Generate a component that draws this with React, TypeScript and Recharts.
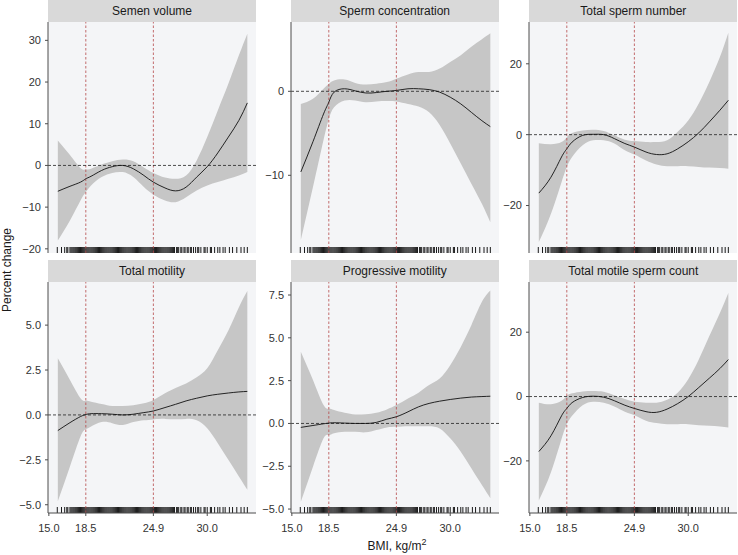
import React from 'react';
import { ComposedChart, Area, Line, XAxis, YAxis, ReferenceLine } from 'recharts';

// BMI grid at which the fitted curves are read
const bmiGrid = [15.85, 17, 18, 18.5, 19, 20, 21, 22, 23, 24, 24.9, 26, 27, 28, 29, 30, 31, 32, 33, 33.8];

// Semen volume
const semenVolumeFit = [-6.2, -5.0, -4.0, -3.2, -2.6, -1.2, -0.3, 0, -0.8, -2.4, -4.0, -5.4, -6.1, -5.2, -2.8, -0.3, 3.0, 6.8, 10.8, 15.0];
const semenVolumeLower = [-18.0, -13.2, -8.4, -6.4, -4.8, -2.8, -1.8, -1.6, -2.8, -5.2, -7.0, -8.4, -8.8, -7.6, -6.0, -4.8, -4.0, -3.2, -2.4, -1.6];
const semenVolumeUpper = [6.0, 2.5, -0.6, -1.0, -0.8, 0.2, 1.0, 1.4, 1.0, -0.5, -1.8, -2.9, -3.2, -2.4, 1.2, 6.8, 13.2, 19.6, 26.4, 31.6];

// Sperm concentration
const concentrationFit = [-9.6, -6.0, -2.7, -1.3, -0.1, 0.3, 0.05, -0.2, -0.15, 0, 0.1, 0.3, 0.3, 0.2, -0.1, -0.7, -1.5, -2.5, -3.5, -4.2];
const concentrationLower = [-17.7, -11.4, -5.8, -3.3, -1.9, -1.1, -1.1, -1.3, -1.2, -1.15, -1.2, -1.5, -1.8, -2.5, -4.0, -6.2, -8.6, -11.0, -13.4, -15.6];
const concentrationUpper = [-1.5, -0.9, 0.3, 0.9, 1.3, 1.4, 1.0, 0.8, 0.9, 1.1, 1.5, 2.0, 2.3, 2.3, 2.7, 3.5, 4.3, 5.3, 6.2, 6.9];

// Total sperm number
const totalNumberFit = [-16.5, -12.0, -6.3, -4.0, -2.1, -0.2, 0.1, 0, -1.1, -2.5, -3.5, -4.9, -5.6, -5.4, -4.0, -2.0, 0.5, 3.6, 6.9, 9.7];
const totalNumberLower = [-30.3, -22.3, -13.4, -9.1, -6.3, -3.0, -1.6, -1.6, -2.5, -4.4, -5.6, -7.3, -8.4, -8.9, -8.9, -8.9, -9.1, -9.3, -9.4, -9.6];
const totalNumberUpper = [-2.4, -2.7, -2.1, -0.7, 0.5, 1.2, 1.4, 1.0, -0.2, -1.4, -1.8, -2.1, -2.1, -1.6, 0.8, 4.0, 8.8, 14.9, 21.9, 28.8];

// Total motility
const totalMotilityFit = [-0.87, -0.43, -0.09, 0.02, 0.07, 0.07, 0.04, 0, 0.04, 0.13, 0.22, 0.41, 0.59, 0.78, 0.93, 1.06, 1.15, 1.22, 1.28, 1.31];
const totalMotilityLower = [-4.81, -2.87, -1.2, -0.8, -0.65, -0.4, -0.46, -0.56, -0.4, -0.3, -0.25, -0.22, -0.24, -0.22, -0.3, -0.74, -1.57, -2.5, -3.43, -4.17];
const totalMotilityUpper = [3.15, 1.94, 0.93, 0.78, 0.74, 0.61, 0.5, 0.5, 0.54, 0.65, 0.83, 1.2, 1.5, 1.75, 2.1, 2.6, 3.6, 4.7, 6.0, 6.9];

// Progressive motility
const progMotilityFit = [-0.23, -0.12, -0.02, 0.02, 0.04, 0.02, 0, 0, 0.06, 0.25, 0.39, 0.68, 0.97, 1.17, 1.3, 1.4, 1.48, 1.54, 1.57, 1.59];
const progMotilityLower = [-4.57, -2.53, -0.87, -0.68, -0.58, -0.49, -0.49, -0.52, -0.39, -0.23, -0.19, -0.16, -0.16, -0.16, -0.29, -0.87, -1.65, -2.62, -3.6, -4.37];
const progMotilityUpper = [4.18, 2.53, 1.07, 0.87, 0.78, 0.62, 0.52, 0.54, 0.62, 0.82, 1.07, 1.46, 1.79, 2.24, 2.62, 3.4, 4.47, 5.73, 7.1, 7.77];

// Total motile sperm count
const tmscFit = [-17.1, -12.2, -6.0, -3.7, -1.9, -0.3, 0.1, -0.2, -1.3, -2.7, -3.7, -4.7, -4.9, -3.9, -2.2, 0, 2.8, 5.7, 8.7, 11.5];
const tmscLower = [-32.3, -23.5, -13.2, -8.6, -6.0, -2.7, -1.6, -1.9, -3.1, -4.7, -5.8, -7.5, -8.2, -8.6, -8.6, -8.6, -8.9, -9.1, -9.3, -9.6];
const tmscUpper = [-1.9, -2.4, -1.3, 0.2, 1.0, 1.6, 1.75, 1.5, 0.4, -0.8, -1.6, -1.9, -1.9, -1.0, 1.2, 5.4, 11.5, 18.8, 26.0, 32.2];

// Observed BMI values (rug)
const rugBmi = [
  15.8, 16.2, 16.5, 16.7, 16.8, 17.0, 17.1, 17.2, 17.3, 17.4, 17.5, 17.6, 17.7, 17.8, 17.9,
  18.0, 18.1, 18.2, 18.3, 18.4, 18.5, 18.6, 18.7, 18.8, 18.9,
  19.0, 19.1, 19.2, 19.3, 19.4, 19.5, 19.6, 19.7, 19.8, 19.9,
  20.0, 20.1, 20.2, 20.3, 20.4, 20.5, 20.6, 20.7, 20.8, 20.9,
  21.0, 21.1, 21.2, 21.3, 21.4, 21.5, 21.6, 21.7, 21.8, 21.9,
  22.0, 22.1, 22.2, 22.3, 22.4, 22.5, 22.6, 22.7, 22.8, 22.9,
  23.0, 23.1, 23.2, 23.3, 23.4, 23.5, 23.6, 23.7, 23.8, 23.9,
  24.0, 24.1, 24.2, 24.3, 24.4, 24.5, 24.6, 24.7, 24.8, 24.9,
  25.0, 25.1, 25.2, 25.3, 25.4, 25.5, 25.6, 25.7, 25.8, 25.9,
  26.0, 26.1, 26.2, 26.3, 26.4, 26.5, 26.6, 26.7, 26.8, 26.9,
  27.1, 27.2, 27.3, 27.5, 27.6, 27.8, 27.9, 28.1, 28.2, 28.4, 28.5, 28.7, 28.9,
  29.1, 29.2, 29.4, 29.7, 29.8, 30.0, 30.3, 30.4, 30.7, 31.0, 31.2, 31.5, 31.7,
  32.1, 32.4, 32.8, 33.2, 33.5, 33.8,
];

const xTicks = [15, 18.5, 24.9, 30];
const cutoffs = [18.5, 24.9];
const X_DOMAIN: [number, number] = [14.92, 34.62];

const PLOT_W = 208;
const PLOT_H = 231;
const STRIP_H = 22;
const Y_AXIS_W = 48;
const X_AXIS_H = 32;
const PAD_B = 10;
const FONT = '"Liberation Sans", Arial, Helvetica, sans-serif';

type Spec = {
  title: string;
  fit: number[];
  lower: number[];
  upper: number[];
  yDomain: [number, number];
  yTicks: number[];
  decimals: number;
  left: number;
  top: number;
  showX: boolean;
};

const panels: Spec[] = [
  { title: 'Semen volume', fit: semenVolumeFit, lower: semenVolumeLower, upper: semenVolumeUpper, yDomain: [-21.0, 34.4], yTicks: [-20, -10, 0, 10, 20, 30], decimals: 0, left: 48, top: 22, showX: false },
  { title: 'Sperm concentration', fit: concentrationFit, lower: concentrationLower, upper: concentrationUpper, yDomain: [-19.25, 8.25], yTicks: [-10, 0], decimals: 0, left: 290.7, top: 22, showX: false },
  { title: 'Total sperm number', fit: totalNumberFit, lower: totalNumberLower, upper: totalNumberUpper, yDomain: [-33.4, 31.8], yTicks: [-20, 0, 20], decimals: 0, left: 529.3, top: 22, showX: false },
  { title: 'Total motility', fit: totalMotilityFit, lower: totalMotilityLower, upper: totalMotilityUpper, yDomain: [-5.46, 7.4], yTicks: [-5, -2.5, 0, 2.5, 5], decimals: 1, left: 48, top: 282, showX: true },
  { title: 'Progressive motility', fit: progMotilityFit, lower: progMotilityLower, upper: progMotilityUpper, yDomain: [-5.23, 8.26], yTicks: [-5, -2.5, 0, 2.5, 5, 7.5], decimals: 1, left: 290.7, top: 282, showX: true },
  { title: 'Total motile sperm count', fit: tmscFit, lower: tmscLower, upper: tmscUpper, yDomain: [-36.2, 35.6], yTicks: [-20, 0, 20], decimals: 0, left: 529.3, top: 282, showX: true },
];

function fmt(v: number, decimals: number) {
  const s = Math.abs(v).toFixed(decimals);
  return v < 0 ? '\u2212' + s : s;
}

const axisColor = '#4D4D4D';
const tickStyle = { fill: '#333333', fontSize: 11, fontFamily: FONT };

function Panel({ spec }: { spec: Spec }) {
  const data = bmiGrid.map((x, i) => ({ x, fit: spec.fit[i], band: [spec.lower[i], spec.upper[i]] }));
  const [y0, y1] = spec.yDomain;
  const rugH = ((y1 - y0) * 6) / PLOT_H;
  const chartH = PLOT_H + (spec.showX ? X_AXIS_H : PAD_B);
  return (
    <>
      <div
        style={{
          position: 'absolute', left: spec.left, top: spec.top - STRIP_H, width: PLOT_W, height: STRIP_H,
          background: '#D9D9D9', display: 'flex', alignItems: 'center', justifyContent: 'center',
          fontSize: 12, color: '#1A1A1A', fontFamily: FONT,
        }}
      >
        {spec.title}
      </div>
      <div style={{ position: 'absolute', left: spec.left, top: spec.top, width: PLOT_W, height: PLOT_H, background: '#F4F5F7' }} />
      <div style={{ position: 'absolute', left: spec.left - Y_AXIS_W, top: spec.top }}>
        <ComposedChart
          width={Y_AXIS_W + PLOT_W}
          height={chartH}
          data={data}
          margin={{ top: 0, right: 0, bottom: spec.showX ? 0 : PAD_B, left: 0 }}
        >
          <XAxis
            dataKey="x" type="number" domain={X_DOMAIN} ticks={xTicks} allowDataOverflow hide={!spec.showX}
            height={X_AXIS_H} tickFormatter={(v: number) => v.toFixed(1)} tick={tickStyle}
            axisLine={{ stroke: axisColor }} tickLine={{ stroke: axisColor }} tickSize={3} tickMargin={8} interval={0}
          />
          <YAxis
            type="number" domain={spec.yDomain} ticks={spec.yTicks} allowDataOverflow width={Y_AXIS_W}
            tickFormatter={(v: number) => fmt(v, spec.decimals)} tick={tickStyle}
            axisLine={{ stroke: axisColor }} tickLine={{ stroke: axisColor }} tickSize={3} tickMargin={4} interval={0}
          />
          <Area dataKey="band" type="natural" stroke="none" fill="#C6C6C6" fillOpacity={1} isAnimationActive={false} dot={false} activeDot={false} />
          {rugBmi.map((b, i) => (
            <ReferenceLine key={'r' + i} segment={[{ x: b, y: y0 }, { x: b, y: y0 + rugH }]} stroke="#000" strokeWidth={0.9} strokeOpacity={1} />
          ))}
          {cutoffs.map((c) => (
            <ReferenceLine key={'c' + c} x={c} stroke="#B5484A" strokeWidth={0.8} strokeDasharray="2.5 2" />
          ))}
          <ReferenceLine y={0} stroke="#222" strokeWidth={0.8} strokeDasharray="3 2" />
          <Line dataKey="fit" type="natural" stroke="#111" strokeWidth={0.9} dot={false} activeDot={false} isAnimationActive={false} />
        </ComposedChart>
      </div>
    </>
  );
}

export default function App() {
  return (
    <div style={{ position: 'absolute', left: 0, top: 0, width: 738, height: 555, background: '#fff', fontFamily: FONT, overflow: 'hidden' }}>
      {panels.map((p) => (
        <Panel key={p.title} spec={p} />
      ))}
      <div
        style={{
          position: 'absolute', left: 7, top: 270, transform: 'translate(-50%, -50%) rotate(-90deg)',
          fontSize: 12, color: '#1A1A1A', whiteSpace: 'nowrap', fontFamily: FONT,
        }}
      >
        Percent change
      </div>
      <div
        style={{
          position: 'absolute', left: 397, top: 545, transform: 'translate(-50%, -50%)',
          fontSize: 12, color: '#1A1A1A', whiteSpace: 'nowrap', fontFamily: FONT,
        }}
      >
        BMI, kg/m<sup style={{ fontSize: 9 }}>2</sup>
      </div>
    </div>
  );
}
